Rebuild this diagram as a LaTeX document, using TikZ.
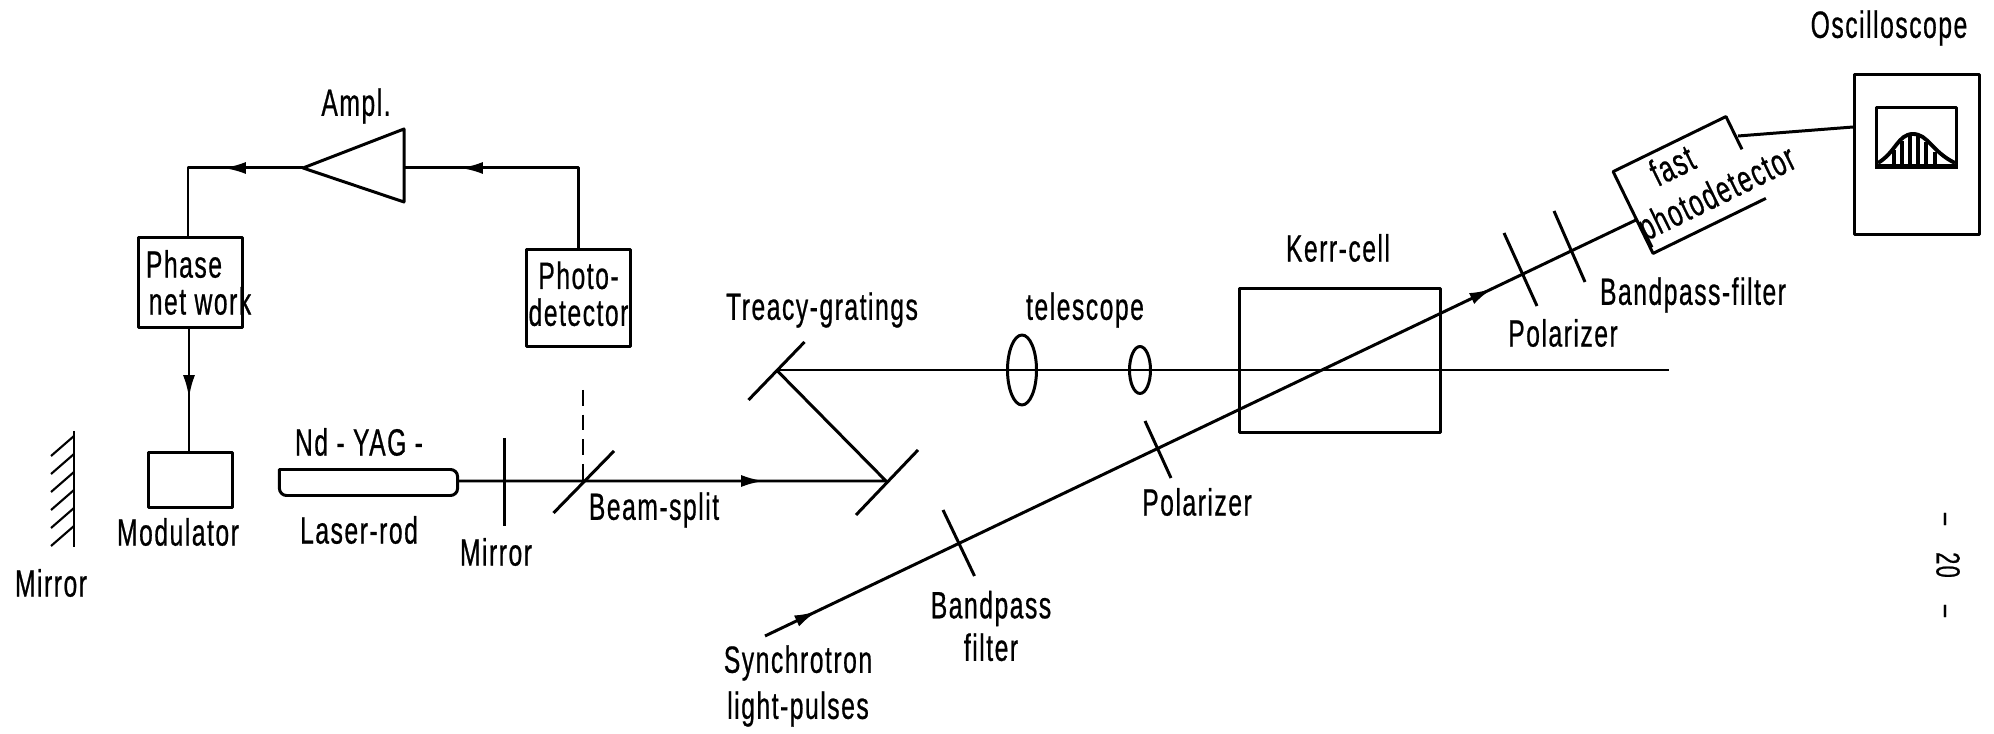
\documentclass[tikz,border=0pt]{standalone}
\usepackage{fontspec}
\setmainfont[FakeStretch=0.65,LetterSpace=4,FakeBold=0.6]{Liberation Sans}
\usetikzlibrary{arrows.meta,calc}
\tikzset{
  lbl/.style={inner sep=0pt,font=\fontsize{10.8}{10.5}\selectfont,align=center},
  box/.style={draw,inner sep=0pt,align=center,font=\fontsize{10.8}{10.5}\selectfont},
  tip/.style={-{Latex[length=6.5pt,width=3.4pt]}}
}
\begin{document}
\begin{tikzpicture}[x=0.01cm,y=-0.01cm,line width=0.85pt,line join=round]
\useasboundingbox (0,0) rectangle (1994,734);
% electronics loop
\coordinate (amptip) at (303,168);
\coordinate (ampin) at (404,168);
\draw (amptip)--(404,129)--(404,202)--cycle;
\node[lbl] (ampl) at (356,106) {Ampl.};
\node[box,minimum width=1.03cm,minimum height=0.89cm] (phase) at (190.5,282.5) {\makebox[0pt]{\hspace{-0.13cm}Phase}\\\makebox[0pt]{\hspace{0.19cm}net work}};
\node[box,minimum width=1.03cm,minimum height=0.96cm] (photo) at (578.5,298) {\makebox[0pt]{\raisebox{2.5pt}{Photo-}}\\\makebox[0pt]{\raisebox{2.5pt}{detector}}};
\node[box,minimum width=0.83cm,minimum height=0.54cm] (modul) at (190.5,480) {};
\node[lbl] (modlbl) at (178,532) {Modulator};
\coordinate (c1) at (578,168);
\coordinate (a1) at (460,168);
\draw[tip] (c1)--(a1);
\draw (ampin)--(c1)--(photo.north-|c1);
\coordinate (c2) at (188,168);
\coordinate (a2) at (223,168);
\draw[tip] (amptip)--(a2);
\draw (amptip)--(c2)--(phase.north-|c2);
\coordinate (a3) at (189,398);
\draw[tip] (phase.south-|a3)--(a3);
\draw (phase.south-|a3)--(modul.north-|a3);
% back mirror
\draw (74,431)--(74,547);
\foreach \y in {436,454,...,526}{\draw[line width=0.6pt] (74,\y)--(51,\y+20);}
\node[lbl] (mirrorA) at (51,583) {Mirror};
% laser
\node[minimum width=1.75cm,minimum height=0.23cm,inner sep=0pt] (rod) at (368.5,482.5) {};
\draw (rod.north west) {[rounded corners=2pt] --(rod.north east)--(rod.south east)--(rod.south west)} --cycle;
\node[lbl] (nd) at (359,442) {Nd - YAG -};
\node[lbl] (laser) at (359,530) {Laser-rod};
\draw (504.5,438)--(504.5,526);
\node[lbl] (mirrorB) at (496,552) {Mirror};
\draw (553.5,513)--(614,451);
\coordinate (split) at (583,481);
\draw[line width=0.6pt,dash pattern=on 4.5pt off 2.5pt] (split|-0,390)--(split);
\node[lbl] (beamsp) at (654,510) {Beam-split};
% gratings and main beam
\coordinate (grB) at (886,481);
\coordinate (grA) at (776.5,370);
\coordinate (a4) at (764,481);
\draw (856,515)--(918,450);
\draw (748.5,400)--(804.5,342);
\draw[tip] (rod.east|-split)--(a4);
\draw (rod.east|-split)--(grB)--(grA);
\coordinate (beamend) at (1669,370);
\draw (grA)--(beamend);
\node[lbl] (treacy) at (822,310) {Treacy-gratings};
\draw (1022,370) ellipse [x radius=14.5,y radius=35];
\draw (1140,370) ellipse [x radius=10.5,y radius=23.5];
\node[lbl] (teles) at (1085,310) {telescope};
\node[box,minimum width=2cm,minimum height=1.43cm] (kerr) at (1340,360.5) {};
\node[lbl] (kerrlbl) at (1338,248) {Kerr-cell};
% synchrotron beam
\node[minimum width=1.225cm,minimum height=0.88cm,inner sep=0pt,rotate=26,align=center,font=\fontsize{10.8}{12.4}\selectfont] (fast) at (1689.5,185) {\makebox[0pt]{\hspace{-0.14cm}fast}\\\makebox[0pt]{\hspace{0.42cm}photodetector}};
\coordinate (start) at (765,636);
\coordinate (detin) at (1636,220);
\coordinate (a5) at ($(start)!0.06!(detin)$);
\coordinate (a6) at ($(start)!0.835!(detin)$);
\draw[tip] (start)--(a5);
\draw[tip] ($(start)!0.04!(detin)$)--(a6);
\draw ($(start)!0.815!(detin)$)--(detin);
\draw ($(fast.north east)!0.4!(fast.south east)$)--(fast.north east)--(fast.north west)--(fast.south west)--(fast.south east);
\draw (943,510)--(974.5,576);
\draw (1145,421)--(1171,478);
\draw (1504,233)--(1537,306);
\draw (1554,211)--(1585,282);
\node[lbl] (pol1) at (1197,502) {Polarizer};
\node[lbl] (bandf) at (991,626) {Bandpass\\[1.6pt]filter};
\node[lbl] (synch) at (798,686) {Synchrotron\\[2.6pt]light-pulses};
\node[lbl] (pol2) at (1563,333) {Polarizer};
\node[lbl] (band2) at (1693,295) {Bandpass-filter};
% oscilloscope
\node[box,minimum width=1.245cm,minimum height=1.59cm] (scope) at (1917,154.5) {};
\node[lbl] (osc) at (1889,28) {Oscilloscope};
\node[box,minimum width=0.8cm,minimum height=0.57cm] (screen) at (1916.5,136.5) {};
\coordinate (detout) at (1738,136);
\draw (detout)--(scope.west|-0,127);
\draw[line width=1.4pt] (screen.south west)--(screen.south east);
\draw[line width=1.1pt] (1878,163) .. controls (1896,152) and (1898,134) .. (1913,134) .. controls (1928,134) and (1932,152) .. (1955,163);
\foreach \x/\t in {1894/150,1902/141,1910/135,1918/135,1926/142,1935/152}{\draw[line width=1pt] (\x,164)--(\x,\t);}
% page number
\node[lbl,rotate=-90,font=\fontsize{9.5}{10}\selectfont] (page) at (1948,565) {\makebox[1.04cm][s]{--\hfill 20\hfill --}};
\end{tikzpicture}
\end{document}
